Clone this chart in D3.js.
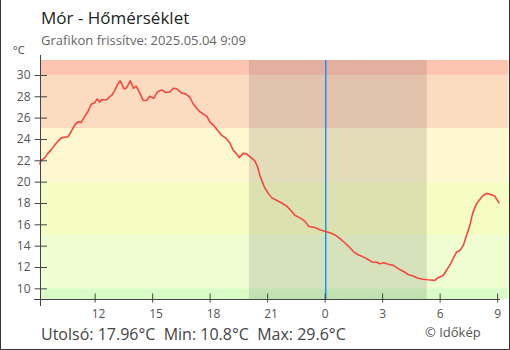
<!DOCTYPE html>
<html><head><meta charset="utf-8">
<script src="https://cdn.jsdelivr.net/npm/d3@7"></script>
<style>
html,body{margin:0;padding:0;background:#fff;}
svg{display:block;font-family:"Open Sans",sans-serif;}
</style></head>
<body><svg id="c" width="510" height="350"></svg>
<script>
// ---- data ----
const titleText = "Mór - Hőmérséklet";
const subtitleText = "Grafikon frissítve: 2025.05.04 9:09";
const unitText = "°C";
const footerText = "Utolsó: 17.96°C  Min: 10.8°C  Max: 29.6°C";
const creditText = "© Időkép";
// hours since midnight of 2025.05.03
const hours = [9.13,9.21,9.39,9.56,9.74,9.91,10.09,10.26,10.61,10.78,10.96,11.13,11.30,11.48,11.65,11.82,12.00,12.14,12.26,12.38,12.61,12.78,12.90,13.04,13.18,13.34,13.53,13.65,13.86,14.03,14.17,14.36,14.54,14.71,14.88,15.09,15.27,15.50,15.72,15.93,16.10,16.28,16.54,16.76,16.97,17.14,17.32,17.49,17.70,17.87,18.01,18.22,18.40,18.62,18.89,19.06,19.23,19.41,19.54,19.75,19.93,20.07,20.36,20.50,20.62,20.74,20.88,21.06,21.23,21.49,21.76,22.02,22.24,22.45,22.71,22.97,23.18,23.49,23.75,24.01,24.27,24.54,24.80,25.06,25.32,25.53,25.75,26.01,26.27,26.50,26.71,26.88,27.09,27.32,27.58,27.84,28.10,28.36,28.62,28.88,29.14,29.40,29.75,29.92,30.18,30.36,30.53,30.71,30.88,31.06,31.23,31.41,31.58,31.72,31.89,32.06,32.27,32.45,32.66,32.88,33.11];
const temps = [21.6,22.0,22.2,22.65,23.0,23.4,23.8,24.1,24.2,24.7,25.3,25.6,25.55,26.1,26.55,27.25,27.4,27.75,27.45,27.7,27.65,27.95,28.1,28.5,29.05,29.45,28.7,28.75,29.45,28.75,28.95,28.3,27.6,27.6,28.0,27.8,28.4,28.6,28.35,28.4,28.75,28.7,28.3,28.2,27.9,27.3,26.9,26.55,26.3,26.1,25.6,25.25,24.85,24.35,24.0,23.6,22.95,22.6,22.25,22.65,22.6,22.4,21.95,21.4,20.6,20.0,19.4,18.9,18.5,18.25,18.0,17.7,17.3,16.85,16.6,16.3,15.8,15.7,15.5,15.35,15.2,15.0,14.65,14.25,13.8,13.4,13.15,12.95,12.7,12.45,12.45,12.3,12.4,12.25,12.15,11.85,11.6,11.3,11.15,10.95,10.85,10.8,10.75,11.0,11.2,11.7,12.15,12.8,13.4,13.55,14.0,15.0,15.9,17.0,17.8,18.25,18.7,18.9,18.8,18.65,17.96];
const bandLow  = [30, 25, 20, 15, 10, -50];
const bandHigh = [50, 30, 25, 20, 15, 10];
const bandColors = ["#fec4b2","#fcdcc0","#fef7cf","#f6fdc4","#effdd2","#dafdc8"];
const yTicks = [10,12,14,16,18,20,22,24,26,28,30];
const xTicks = [12,15,18,21,24,27,30,33];
const xTickLabels = ["12","15","18","21","0","3","6","9"];
const night = [20.05, 29.33];
const midnight = 24;

// ---- layout ----
const svg = d3.select("#c");
const plotL = 40, plotR = 500, bandR = 508.5, plotT = 60, plotB = 299;
const x = d3.scaleLinear().domain([9.15, 33.15]).range([plotL, plotR]);
const y = d3.scaleLinear().domain([9, 31.4]).range([plotB, plotT]);

// border
svg.append("path").attr("d","M0.5,0 V349.5 H509.5 V0").attr("fill","none").attr("stroke","#333").attr("stroke-width",1);

// bands
svg.append("g").selectAll("rect").data(bandLow).join("rect")
  .attr("x", plotL+1).attr("width", bandR-plotL-1)
  .attr("y", (d,i)=> y(Math.min(bandHigh[i], 31.4)))
  .attr("height", (d,i)=> y(Math.max(d, 9)) - y(Math.min(bandHigh[i],31.4)))
  .attr("fill", (d,i)=>bandColors[i]);

// night shading
svg.append("rect").attr("x", x(night[0])).attr("width", x(night[1])-x(night[0]))
  .attr("y", plotT).attr("height", plotB-plotT).attr("fill","rgba(0,0,0,0.105)");

// midnight line
const mx = Math.round(x(midnight));
svg.append("rect").attr("x", mx).attr("width", 1.5)
  .attr("y", plotT).attr("height", plotB-plotT).attr("fill","#1e90ff");

// temperature line
const pts = hours.map((h,i)=>[h,temps[i]]);
svg.append("path").datum(pts)
  .attr("fill","none").attr("stroke","#f4473e").attr("stroke-width",1.6)
  .attr("stroke-linejoin","round")
  .attr("d", d3.line().x(d=>x(d[0])).y(d=>y(d[1])));

// y axis
const yAxis = svg.append("g").attr("transform",`translate(${plotL+0.5},0)`)
  .call(d3.axisLeft(y).tickValues(yTicks).tickSize(6).tickPadding(4));
yAxis.select(".domain").remove();
yAxis.selectAll(".tick line").attr("x1", 6.5).attr("stroke","#444");
yAxis.selectAll(".tick text").attr("fill","#555").style("font-size","12px").attr("font-family","Open Sans");
svg.append("line").attr("x1",plotL+0.5).attr("x2",plotL+0.5).attr("y1",55).attr("y2",306).attr("stroke","#444");

// x axis
const xAxis = svg.append("g").attr("transform",`translate(0,${plotB+0.5})`)
  .call(d3.axisBottom(x).tickValues(xTicks).tickFormat((d,i)=>xTickLabels[i]).tickSize(3).tickPadding(7));
xAxis.select(".domain").remove();
xAxis.selectAll(".tick line").attr("y1",-6).attr("stroke","#444");
xAxis.selectAll(".tick text").attr("fill","#555").style("font-size","12px").attr("font-family","Open Sans")
  .attr("text-anchor","start").attr("x",-3.5);
svg.append("line").attr("x1",34).attr("x2",plotR).attr("y1",plotB+0.5).attr("y2",plotB+0.5).attr("stroke","#444");

// texts
svg.append("text").attr("x",41).attr("y",24).attr("fill","#222").style("font-size","17px").text(titleText);
svg.append("text").attr("x",41).attr("y",45).attr("fill","#666").style("font-size","13px").text(subtitleText);
svg.append("text").attr("x",13).attr("y",54).attr("fill","#444").style("font-size","11px").text(unitText);
svg.append("text").attr("x",41).attr("y",340).attr("fill","#444").style("font-size","16px").attr("xml:space","preserve").style("white-space","pre").text(footerText);
svg.append("text").attr("x",425).attr("y",337).attr("fill","#555").style("font-size","13px").text(creditText);
</script></body></html>
